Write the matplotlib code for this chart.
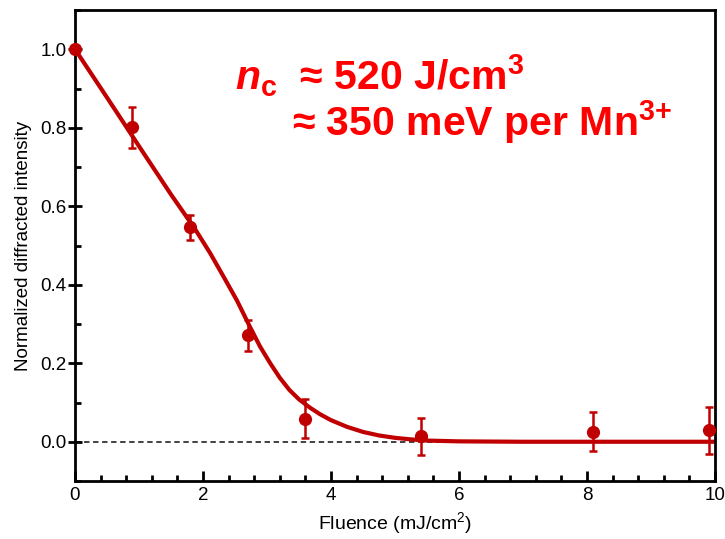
import matplotlib
matplotlib.use('Agg')
import matplotlib.pyplot as plt
from matplotlib.ticker import MultipleLocator

# measured points
fluence = [0.0, 0.89, 1.79, 2.71, 3.59, 5.40, 8.10, 9.91]
intensity = [1.0, 0.801, 0.546, 0.271, 0.059, 0.0135, 0.026, 0.029]
err = [0.0, 0.053, 0.032, 0.040, 0.050, 0.047, 0.049, 0.059]

# fit curve
fit_x = [0.0, 0.5, 1.0, 1.5, 1.875, 2.11, 2.32, 2.53, 2.73, 2.89, 3.05, 3.2, 3.35, 3.5,
         3.67, 3.83, 4.0, 4.25, 4.5, 4.75, 5.0, 5.25, 5.5, 6.0, 7.0, 8.0, 9.0, 10.0]
fit_y = [1.0, 0.877, 0.753, 0.630, 0.542, 0.481, 0.421, 0.360, 0.294, 0.243, 0.200, 0.163, 0.132, 0.108,
         0.087, 0.070, 0.055, 0.038, 0.025, 0.016, 0.010, 0.006, 0.003, 0.001, 0.0, 0.0, 0.0, 0.0]

plt.rcParams['font.family'] = ['Liberation Sans', 'DejaVu Sans']
plt.rcParams['mathtext.fontset'] = 'custom'
plt.rcParams['mathtext.rm'] = 'Liberation Sans:bold'
plt.rcParams['mathtext.it'] = 'Liberation Sans:bold:italic'
plt.rcParams['mathtext.bf'] = 'Liberation Sans:bold'

dark_red = '#c00000'

fig = plt.figure(figsize=(7.25, 5.39), dpi=100)
ax = fig.add_axes([75 / 725, 1 - 481 / 539, 640 / 725, 471 / 539])

ax.plot([0, 10], [0, 0], ls=(0, (3, 2)), color='#333333', lw=1.3, zorder=1)
ax.plot(fit_x, fit_y, color=dark_red, lw=3, zorder=2)
ax.errorbar(fluence, intensity, yerr=err, fmt='o', color=dark_red, ms=8.5,
            elinewidth=1.8, capsize=3, capthick=1.8, zorder=3, clip_on=False)

ax.set_xlim(0, 10)
ax.set_ylim(-0.1, 1.1)
ax.xaxis.set_major_locator(MultipleLocator(2))
ax.xaxis.set_minor_locator(MultipleLocator(0.4))
ax.yaxis.set_minor_locator(MultipleLocator(0.1))
ax.set_yticks([0.0, 0.2, 0.4, 0.6, 0.8, 1.0])
ax.set_yticklabels(['0.0', '0.2', '0.4', '0.6', '0.8', '1.0'])

ax.tick_params(axis='x', which='major', direction='in', length=7, width=2, labelsize=13.5, pad=4)
ax.tick_params(axis='x', which='minor', direction='in', length=4, width=2)
ax.tick_params(axis='y', which='major', direction='inout', length=10, width=2, labelsize=13.5, pad=1)
ax.tick_params(axis='y', which='minor', direction='in', length=4, width=2)
for s in ax.spines.values():
    s.set_linewidth(2)

ax.set_xlabel(r'Fluence (mJ/cm$\mathregular{^2}$)', fontsize=14, labelpad=5)
ax.set_ylabel('Normalized diffracted intensity', fontsize=13.5, labelpad=6)

ax.text(2.5, 0.897, r'$n_{\rm c}$  ≈ 520 J/cm$^{\rm 3}$', color='red', fontsize=29.5,
        fontweight='bold', va='baseline', ha='left')
ax.text(3.39, 0.78, r'≈ 350 meV per Mn$^{\rm 3{+}}$', color='red', fontsize=29.5,
        fontweight='bold', va='baseline', ha='left')

fig.savefig('out.png', dpi=100)
